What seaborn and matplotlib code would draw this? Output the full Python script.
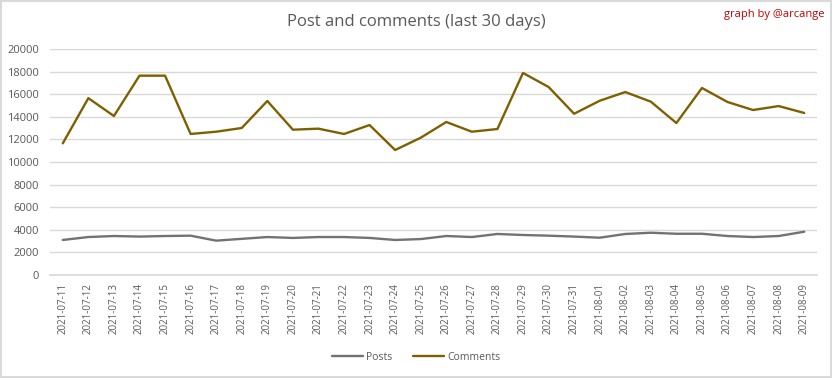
import seaborn as sns
import matplotlib.pyplot as plt
import pandas as pd

# data
dates = ["2021-07-11", "2021-07-12", "2021-07-13", "2021-07-14", "2021-07-15",
         "2021-07-16", "2021-07-17", "2021-07-18", "2021-07-19", "2021-07-20",
         "2021-07-21", "2021-07-22", "2021-07-23", "2021-07-24", "2021-07-25",
         "2021-07-26", "2021-07-27", "2021-07-28", "2021-07-29", "2021-07-30",
         "2021-07-31", "2021-08-01", "2021-08-02", "2021-08-03", "2021-08-04",
         "2021-08-05", "2021-08-06", "2021-08-07", "2021-08-08", "2021-08-09"]
posts = [3100, 3360, 3450, 3400, 3450, 3480, 3040, 3200, 3360, 3280,
         3360, 3360, 3280, 3100, 3180, 3450, 3360, 3630, 3540, 3480,
         3400, 3300, 3630, 3740, 3650, 3650, 3450, 3360, 3450, 3830]
comments = [11650, 15650, 14070, 17640, 17640, 12480, 12680, 13010, 15400, 12860,
            12950, 12480, 13270, 11060, 12150, 13540, 12680, 12920, 17880, 16640,
            14270, 15420, 16190, 15340, 13450, 16550, 15310, 14600, 14950, 14340]

df = pd.DataFrame({"date": dates * 2,
                   "value": posts + comments,
                   "series": ["Posts"] * len(dates) + ["Comments"] * len(dates)})

sns.set_theme(style="whitegrid")
plt.rcParams["font.family"] = ["Open Sans", "DejaVu Sans"]

fig = plt.figure(figsize=(8.32, 3.78), dpi=100)
fig.patch.set_edgecolor("#d9d9d9")
fig.patch.set_linewidth(1.5)
ax = fig.add_axes([50 / 832, 1 - 275 / 378, 767 / 832, 226 / 378])

sns.lineplot(data=df, x="date", y="value", hue="series", sort=False,
             palette={"Posts": "#767171", "Comments": "#7f6000"},
             linewidth=1.7, ax=ax, legend=False)

ax.set_xlim(-0.5, len(dates) - 0.5)
ax.set_ylim(0, 20000)
ax.set_yticks(range(0, 20001, 2000))
ax.set_xlabel("")
ax.set_ylabel("")
ax.grid(axis="x", visible=False)
ax.grid(axis="y", color="#d9d9d9", linewidth=1)
for s in ["left", "right", "top"]:
    ax.spines[s].set_visible(False)
ax.spines["bottom"].set_color("#d9d9d9")
ax.tick_params(axis="x", labelrotation=90, labelsize=7, colors="#595959", pad=6, length=0)
ax.tick_params(axis="y", labelsize=8, colors="#595959", pad=8, length=0)

fig.text(0.5, 1 - 22 / 378, "Post and comments (last 30 days)", ha="center", va="center",
         fontsize=12, color="#595959")
fig.text(1 - 8 / 832, 1 - 15 / 378, "graph by @arcange", ha="right", va="center",
         fontsize=8, color="#c00000")

h1, = ax.plot([], [], color="#767171", linewidth=1.7, label="Posts")
h2, = ax.plot([], [], color="#7f6000", linewidth=1.7, label="Comments")
fig.legend(handles=[h1, h2], loc="center", bbox_to_anchor=(0.5, 1 - 357 / 378), ncol=2,
           frameon=False, fontsize=7.5, labelcolor="#595959", handlelength=3,
           columnspacing=2, handletextpad=0.3)

fig.savefig("out.png", dpi=100, facecolor="white", edgecolor=fig.get_edgecolor())
